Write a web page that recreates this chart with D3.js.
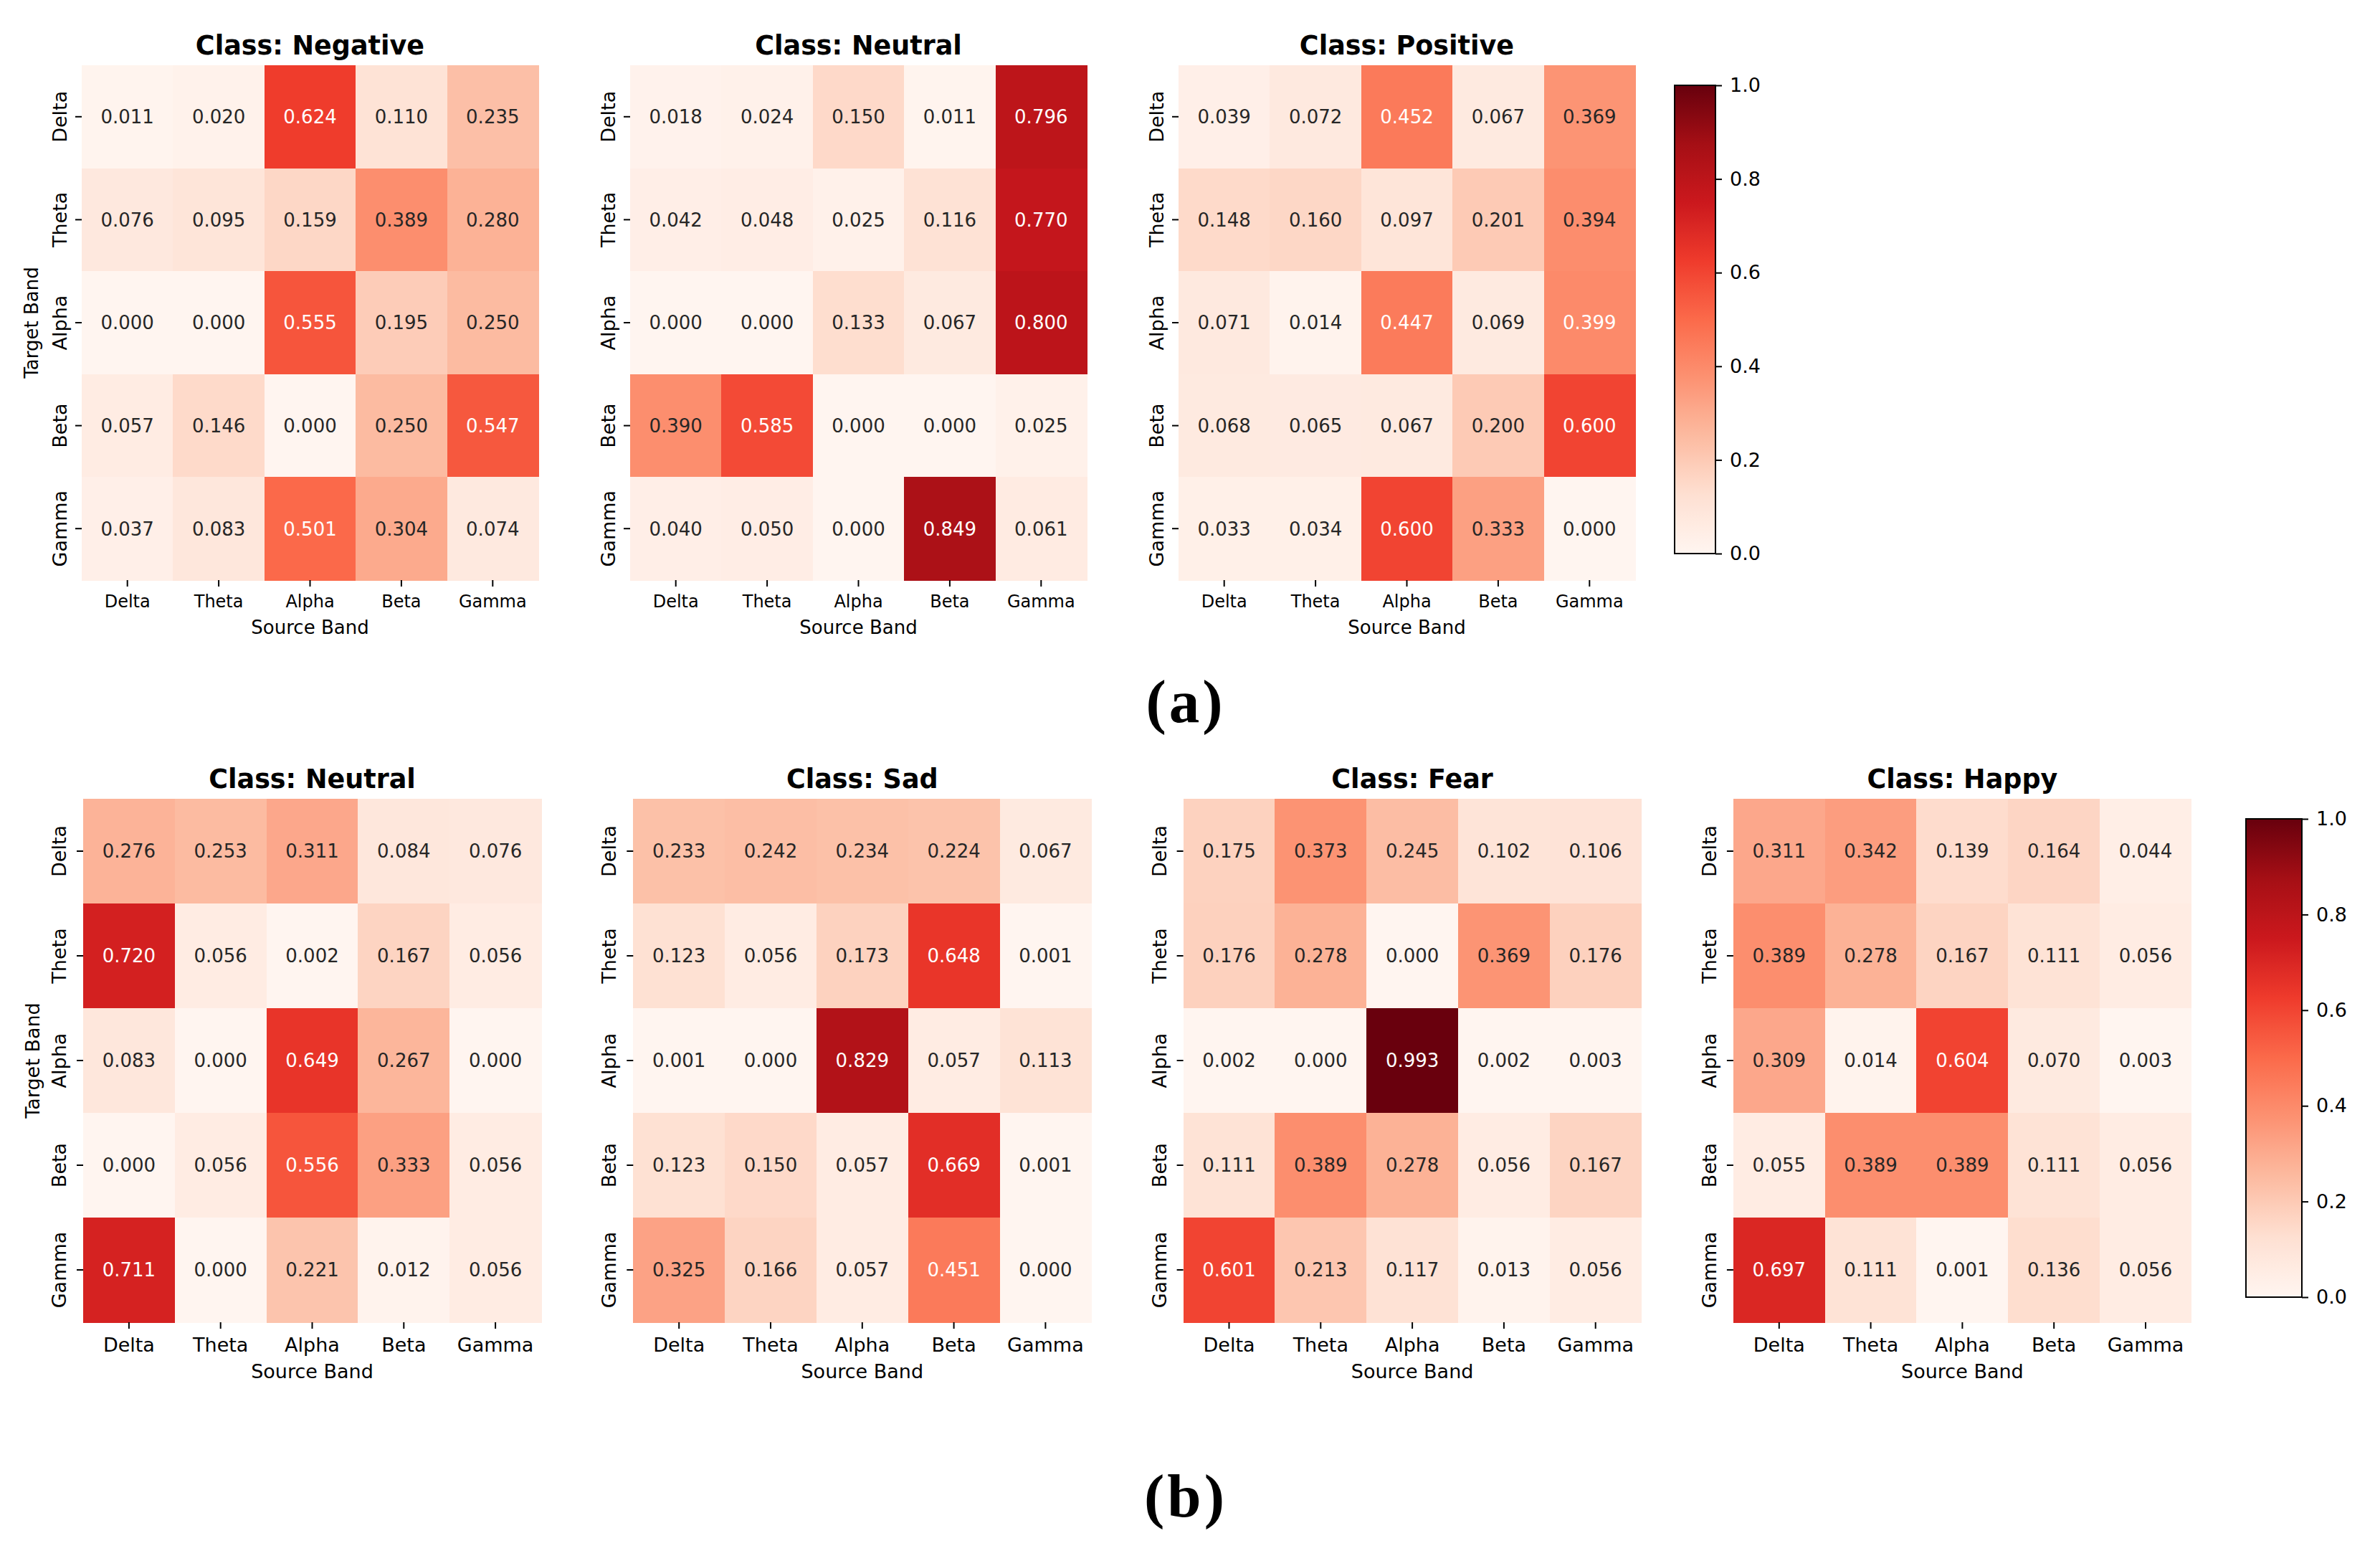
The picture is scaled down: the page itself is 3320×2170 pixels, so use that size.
<!DOCTYPE html>
<html>
<head>
<meta charset="utf-8">
<script src="https://cdn.jsdelivr.net/npm/d3@7"></script>
<style>
  html, body { margin: 0; padding: 0; background: #fff; }
  svg { display: block; }
</style>
</head>
<body>
<div id="chart"></div>
<script>
// ---- data ----
const bands = ["Delta", "Theta", "Alpha", "Beta", "Gamma"];

const classesA = ["Negative", "Neutral", "Positive"];
const classesB = ["Neutral", "Sad", "Fear", "Happy"];

// rows = target band, columns = source band
const negativeA = [
    [0.011, 0.020, 0.624, 0.110, 0.235],
    [0.076, 0.095, 0.159, 0.389, 0.280],
    [0.000, 0.000, 0.555, 0.195, 0.250],
    [0.057, 0.146, 0.000, 0.250, 0.547],
    [0.037, 0.083, 0.501, 0.304, 0.074]
];
const neutralA = [
    [0.018, 0.024, 0.150, 0.011, 0.796],
    [0.042, 0.048, 0.025, 0.116, 0.770],
    [0.000, 0.000, 0.133, 0.067, 0.800],
    [0.390, 0.585, 0.000, 0.000, 0.025],
    [0.040, 0.050, 0.000, 0.849, 0.061]
];
const positiveA = [
    [0.039, 0.072, 0.452, 0.067, 0.369],
    [0.148, 0.160, 0.097, 0.201, 0.394],
    [0.071, 0.014, 0.447, 0.069, 0.399],
    [0.068, 0.065, 0.067, 0.200, 0.600],
    [0.033, 0.034, 0.600, 0.333, 0.000]
];

const neutralB = [
    [0.276, 0.253, 0.311, 0.084, 0.076],
    [0.720, 0.056, 0.002, 0.167, 0.056],
    [0.083, 0.000, 0.649, 0.267, 0.000],
    [0.000, 0.056, 0.556, 0.333, 0.056],
    [0.711, 0.000, 0.221, 0.012, 0.056]
];
const sadB = [
    [0.233, 0.242, 0.234, 0.224, 0.067],
    [0.123, 0.056, 0.173, 0.648, 0.001],
    [0.001, 0.000, 0.829, 0.057, 0.113],
    [0.123, 0.150, 0.057, 0.669, 0.001],
    [0.325, 0.166, 0.057, 0.451, 0.000]
];
const fearB = [
    [0.175, 0.373, 0.245, 0.102, 0.106],
    [0.176, 0.278, 0.000, 0.369, 0.176],
    [0.002, 0.000, 0.993, 0.002, 0.003],
    [0.111, 0.389, 0.278, 0.056, 0.167],
    [0.601, 0.213, 0.117, 0.013, 0.056]
];
const happyB = [
    [0.311, 0.342, 0.139, 0.164, 0.044],
    [0.389, 0.278, 0.167, 0.111, 0.056],
    [0.309, 0.014, 0.604, 0.070, 0.003],
    [0.055, 0.389, 0.389, 0.111, 0.056],
    [0.697, 0.111, 0.001, 0.136, 0.056]
];

const colorbarTicks = [0, 0.2, 0.4, 0.6, 0.8, 1.0];

// ColorBrewer Reds (same anchors as matplotlib "Reds")
const redsAnchors = ["#fff5f0", "#fee0d2", "#fcbba1", "#fc9272", "#fb6a4a",
                     "#ef3b2c", "#cb181d", "#a50f15", "#67000d"];

// ---- setup ----
const W = 3320, H = 2170;
const FONT = "'DejaVu Sans', sans-serif";

const svg = d3.select("#chart").append("svg")
    .attr("width", W)
    .attr("height", H)
    .attr("viewBox", `0 0 ${W} ${H}`);

svg.append("rect").attr("width", W).attr("height", H).attr("fill", "#fff");

const colorScale = d3.scaleLinear()
    .domain(d3.range(redsAnchors.length).map(i => i / (redsAnchors.length - 1)))
    .range(redsAnchors)
    .interpolate(d3.interpolateRgb)
    .clamp(true);

// matplotlib colormaps use a 256 entry lookup table
function cmap(v) {
    const idx = Math.min(255, Math.max(0, Math.floor(v * 256)));
    return colorScale(idx / 255);
}

// seaborn picks annotation colour from relative luminance
function luminance(c) {
    const rgb = d3.rgb(c);
    const lin = [rgb.r, rgb.g, rgb.b].map(v => {
        v /= 255;
        return v <= 0.03928 ? v / 12.92 : Math.pow((v + 0.055) / 1.055, 2.4);
    });
    return 0.2126 * lin[0] + 0.7152 * lin[1] + 0.0722 * lin[2];
}

function drawHeatmap(opt) {
    const g = svg.append("g")
        .attr("transform", `translate(${opt.x},${opt.y})`);

    const xScale = d3.scaleBand().domain(bands).range([0, opt.w]);
    const yScale = d3.scaleBand().domain(bands).range([0, opt.h]);

    const cells = [];
    opt.values.forEach((row, i) => {
        row.forEach((v, j) => {
            cells.push({ target: bands[i], source: bands[j], value: v });
        });
    });

    g.selectAll(".cell")
        .data(cells)
        .enter()
        .append("rect")
        .attr("class", "cell")
        .attr("x", d => xScale(d.source))
        .attr("y", d => yScale(d.target))
        .attr("width", xScale.bandwidth() + 0.5)
        .attr("height", yScale.bandwidth() + 0.5)
        .attr("fill", d => cmap(d.value))
        .attr("shape-rendering", "crispEdges");

    g.selectAll(".annot")
        .data(cells)
        .enter()
        .append("text")
        .attr("class", "annot")
        .attr("x", d => xScale(d.source) + xScale.bandwidth() / 2)
        .attr("y", d => yScale(d.target) + yScale.bandwidth() / 2)
        .attr("dy", "0.36em")
        .attr("text-anchor", "middle")
        .attr("font-family", FONT)
        .attr("font-size", opt.cellFs)
        .attr("fill", d => luminance(cmap(d.value)) > 0.408 ? "#262626" : "#ffffff")
        .text(d => d3.format(".3f")(d.value));

    // x axis
    const xAxis = g.append("g")
        .attr("transform", `translate(0,${opt.h})`)
        .call(d3.axisBottom(xScale).tickSize(opt.tick).tickSizeOuter(0));
    xAxis.select(".domain").remove();
    xAxis.selectAll(".tick line").attr("stroke", "#000").attr("stroke-width", 2);
    xAxis.selectAll(".tick text")
        .attr("y", opt.xTickBase)
        .attr("dy", null)
        .attr("fill", "#000")
        .attr("font-family", FONT)
        .attr("font-size", opt.xTickFs);

    // y axis (vertical labels)
    const yAxis = g.append("g")
        .call(d3.axisLeft(yScale).tickSize(opt.tick).tickSizeOuter(0));
    yAxis.select(".domain").remove();
    yAxis.selectAll(".tick line").attr("stroke", "#000").attr("stroke-width", 2);
    yAxis.selectAll(".tick text")
        .attr("x", null)
        .attr("dy", null)
        .attr("text-anchor", "middle")
        .attr("transform", `translate(${-opt.yTickBase},0) rotate(-90)`)
        .attr("fill", "#000")
        .attr("font-family", FONT)
        .attr("font-size", opt.yTickFs);

    // title
    g.append("text")
        .attr("x", opt.w / 2)
        .attr("y", -opt.titleGap)
        .attr("text-anchor", "middle")
        .attr("font-family", FONT)
        .attr("font-weight", "bold")
        .attr("font-size", 36.5)
        .attr("fill", "#000")
        .text("Class: " + opt.title);

    // axis labels
    g.append("text")
        .attr("x", opt.w / 2)
        .attr("y", opt.h + opt.xLabelBase)
        .attr("text-anchor", "middle")
        .attr("font-family", FONT)
        .attr("font-size", opt.labelFs)
        .attr("fill", "#000")
        .text("Source Band");

    if (opt.showYLabel) {
        g.append("text")
            .attr("transform", `translate(${opt.yLabelX - opt.x},${opt.h / 2}) rotate(-90)`)
            .attr("dy", "0.36em")
            .attr("text-anchor", "middle")
            .attr("font-family", FONT)
            .attr("font-size", opt.labelFs)
            .attr("fill", "#000")
            .text("Target Band");
    }
}

function drawColorbar(cb, id) {
    const g = svg.append("g")
        .attr("transform", `translate(${cb.x},${cb.y})`);

    const grad = svg.append("defs").append("linearGradient")
        .attr("id", id)
        .attr("x1", 0).attr("y1", 1)
        .attr("x2", 0).attr("y2", 0);
    d3.range(0, 1.0001, 1 / 32).forEach(t => {
        grad.append("stop")
            .attr("offset", t)
            .attr("stop-color", colorScale(t));
    });

    g.append("rect")
        .attr("width", cb.w)
        .attr("height", cb.h)
        .attr("fill", `url(#${id})`)
        .attr("stroke", "#000")
        .attr("stroke-width", 2);

    const s = d3.scaleLinear().domain([0, 1]).range([cb.h, 0]);
    const ax = g.append("g")
        .attr("transform", `translate(${cb.w},0)`)
        .call(d3.axisRight(s)
            .tickValues(colorbarTicks)
            .tickFormat(d3.format(".1f"))
            .tickSize(9)
            .tickPadding(11));
    ax.select(".domain").remove();
    ax.selectAll(".tick line").attr("stroke", "#000").attr("stroke-width", 2);
    ax.selectAll(".tick text")
        .attr("fill", "#000")
        .attr("font-family", FONT)
        .attr("font-size", 27);
}

function subLabel(text, baseline) {
    const t = svg.append("text")
        .attr("x", W / 2 - 8)
        .attr("y", baseline)
        .attr("text-anchor", "middle")
        .attr("font-family", "'Liberation Serif', 'Times New Roman', serif")
        .attr("font-weight", "bold")
        .attr("font-size", 85)
        .attr("fill", "#000");
    t.append("tspan").text("(");
    t.append("tspan").attr("dx", 4).text(text);
    t.append("tspan").attr("dx", 4).text(")");
}

// ---- row (a) ----
const valuesA = [negativeA, neutralA, positiveA];
classesA.forEach((c, i) => {
    drawHeatmap({
        x: 114 + i * 765, y: 91, w: 637, h: 718,
        title: c, values: valuesA[i],
        showYLabel: i === 0, yLabelX: 44,
        tick: 9, cellFs: 26, xTickFs: 24, yTickFs: 27, labelFs: 26,
        xTickBase: 38, yTickBase: 21, xLabelBase: 75, titleGap: 15
    });
});
drawColorbar({ x: 2336, y: 119, w: 57, h: 653 }, "cbarA");
subLabel("a", 1007);

// ---- row (b) ----
const valuesB = [neutralB, sadB, fearB, happyB];
classesB.forEach((c, i) => {
    drawHeatmap({
        x: 116 + i * 767.3, y: 1114, w: 639, h: 730,
        title: c, values: valuesB[i],
        showYLabel: i === 0, yLabelX: 45,
        tick: 9, cellFs: 26, xTickFs: 27, yTickFs: 27, labelFs: 27,
        xTickBase: 41, yTickBase: 24, xLabelBase: 78, titleGap: 15
    });
});
drawColorbar({ x: 3133, y: 1142, w: 78, h: 667 }, "cbarB");
subLabel("b", 2115);
</script>
</body>
</html>
